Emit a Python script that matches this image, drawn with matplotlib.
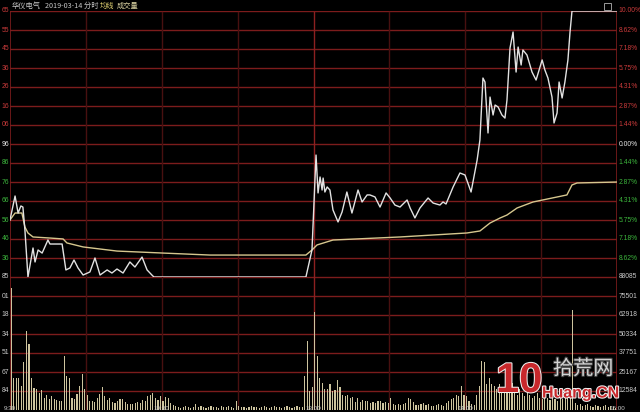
import numpy as np
import matplotlib
matplotlib.use("Agg")
import matplotlib.pyplot as plt
import matplotlib.transforms as mtrans
import matplotlib.patheffects as pe
from matplotlib.patches import Rectangle

plt.rcParams['font.family'] = ['Noto Sans CJK SC', 'DejaVu Sans']

# ---------------- data ----------------
title_name = "华仪电气"
title_date = "2019-03-14 分时"
title_avg = "均线"
title_vol = "成交量"

# price line (minutes since 9:30, % change vs previous close)
price_min = [0, 2.0, 3.2, 4.3, 5.1, 5.9, 7.1, 9.1, 9.9, 11.1, 12.7, 15.0, 15.8, 20.6, 22.1, 23.7,
             25.3, 26.9, 28.9, 31.6, 33.6, 35.6, 38.4, 40.3, 42.3, 44.7, 47.4, 49.4, 52.2, 54.2,
             56.1, 56.9, 117.0, 119.4, 121.0, 121.8, 122.6, 123.4, 123.8, 124.5, 125.4, 126.5,
             127.7, 129.7, 131.3, 133.2, 135.2, 137.6, 139.2, 141.2, 142.3, 144.3, 146.3, 148.7,
             150.3, 152.2, 154.2, 157.0, 158.2, 160.1, 162.1, 165.3, 167.3, 170.0, 171.2, 172.4,
             175.2, 177.9, 179.9, 182.3, 184.7, 185.8, 187.0, 187.8, 189.0, 189.8, 191.0, 191.8,
             193.0, 194.5, 195.7, 196.5, 197.7, 198.9, 200.1, 200.9, 202.1, 202.8, 204.4, 206.4,
             208.0, 210.4, 211.5, 212.7, 214.3, 215.1, 216.3, 217.1, 218.3, 219.4, 220.6, 221.4,
             222.2, 240]
price_pct = [-5.71, -3.91, -5.19, -4.66, -4.74, -6.47, -10.0, -7.82, -8.87, -7.97, -8.20, -7.22,
             -7.52, -7.52, -9.47, -9.32, -8.72, -9.32, -9.85, -9.62, -8.57, -9.85, -9.47, -9.70,
             -9.40, -9.70, -8.87, -9.25, -8.50, -9.47, -9.85, -10.0, -10.0, -7.97, -0.83, -3.68,
             -2.48, -3.46, -2.56, -3.61, -3.23, -3.46, -4.96, -5.86, -5.11, -3.61, -5.19, -3.46,
             -4.36, -3.83, -3.83, -3.98, -4.74, -3.68, -4.06, -4.59, -4.74, -4.21, -4.81, -5.56,
             -4.81, -4.06, -4.44, -4.59, -4.36, -4.51, -3.23, -2.18, -2.33, -3.61, -1.20, 0.30,
             4.96, 4.66, 0.83, 3.53, 2.18, 2.93, 2.78, 2.18, 1.95, 3.31, 7.22, 8.42, 5.41, 7.29,
             5.94, 7.07, 6.69, 5.41, 4.81, 6.32, 5.56, 4.96, 3.53, 1.58, 2.33, 4.66, 3.46, 4.66,
             6.32, 8.35, 10.0, 10.0]

# average price line
avg_min = [0, 2.0, 4.7, 5.9, 7.1, 9.1, 15.8, 21.0, 22.5, 28.9, 42.3, 60.5, 79.1, 117.0, 119.4,
           121.4, 127.7, 154.2, 180.7, 185.8, 189.8, 193.8, 196.5, 200.5, 206.8, 220.2, 222.2,
           224.2, 240]
avg_pct = [-5.71, -5.19, -5.19, -6.24, -6.69, -6.99, -7.07, -7.14, -7.44, -7.74, -8.05, -8.20,
           -8.35, -8.35, -7.97, -7.59, -7.22, -6.99, -6.69, -6.54, -5.94, -5.56, -5.34, -4.81,
           -4.36, -3.83, -3.08, -2.93, -2.86]

# per-minute volume (240 minutes)
volume = [
    81000, 21000, 21000, 21000, 16000, 32000, 52000, 44000, 21000, 14500,
    14000, 11000, 13000, 8000, 10000, 7500, 9000, 7000, 6500, 6000,
    6000, 36000, 22500, 21000, 8000, 7500, 10500, 16000, 24000, 14000,
    10000, 6000, 6000, 5000, 8000, 10500, 15500, 9500, 6500, 8000,
    5000, 4500, 6000, 7000, 7000, 5000, 4200, 4200, 4200, 4500,
    5000, 4500, 6500, 6000, 9000, 10000, 11500, 8000,
    6600, 9300, 6000, 8600, 7700, 4900, 3300,
    2600, 2000, 1500, 2000, 2600, 2000, 1500, 2000, 4000, 2000,
    2600, 2000, 1500, 2000, 2600, 2000, 2000, 1500, 2600, 2000,
    2000, 2600, 2000, 1500, 5700, 2600, 2000, 2000, 1500, 2000,
    2600, 2000, 2000, 1500, 2000, 2600, 2000, 1500, 2000, 2600,
    2000, 2000, 1500, 2000, 2600, 2000, 1500, 2000, 2600, 2000, 2000,
    22700, 46000, 12500, 15000,
    65000, 36000, 21000, 18000, 14000, 14000, 17000, 12500, 13500, 20000,
    15000, 10000, 9500, 10000, 8000, 8500, 5000, 8000, 5000, 6500,
    6000, 6000, 4500, 5000, 4500, 6000, 6000, 4500, 5000, 4500,
    8000, 4000, 3300, 4000, 3300, 4000, 4500, 8000, 7500, 5000,
    3300, 3300, 4000, 4500, 3300, 4000, 2600, 2600, 3300, 4000,
    3300, 2600, 4500, 5700, 7000, 8000, 10000, 9300, 16000, 10000,
    9000, 5700, 4000, 3300, 10000, 16000, 32400, 32000, 17000, 21400,
    17000, 16000,
    14000, 17000, 12000, 15000, 11000, 13000, 18000, 12000, 10000, 14000,
    11000, 9000, 12000, 10000, 8000, 9500, 11000, 8000, 7000, 9000,
    8000, 6500, 9000, 7500, 6000, 8000, 7000, 9500, 11000, 8000,
    66000,
    4500, 3300, 4000, 2600, 3300, 4000, 2600, 2000, 3300, 2600,
    2000, 2600, 3300, 2000, 2600, 2000, 1500,
]

right_up_labels = ["10.00%", "8.62%", "7.18%", "5.75%", "4.31%", "2.87%", "1.44%"]
right_zero_label = "0.00%"
right_dn_labels = ["1.44%", "2.87%", "4.31%", "5.75%", "7.18%", "8.62%"]
left_price_labels = ["65", "55", "45", "36", "26", "16", "06", "96",
                     "86", "76", "66", "56", "46", "36"]
vol_right_labels = ["88085", "75501", "62918", "50334", "37751", "25167", "12584"]
vol_left_labels = ["85", "01", "18", "34", "51", "67", "84"]
vol_max = 88085
time_labels = ["9:30", "10:30", "13:00", "14:00", "15:00"]
time_pos = [0, 60, 120, 180, 240]

# ---------------- figure ----------------
W, H = 640, 412
fig = plt.figure(figsize=(6.4, 4.12), dpi=100, facecolor="black")

L, R = 10, 617
ax = fig.add_axes([L / W, 1 - 277 / H, (R - L) / W, (277 - 11) / H])
axv = fig.add_axes([L / W, 1 - 410 / H, (R - L) / W, (410 - 277) / H])

GRID = "#7c1c1c"
VGRID = "#481010"
RED = "#c83a3a"
GREEN = "#3cb43c"
WHITE = "#e6e6e6"
GRAY = "#c8c8c8"

step = 10 / 7.0
for a in (ax, axv):
    a.set_facecolor("black")
    a.set_xlim(0, 240)
    a.set_xticks([])
    a.set_yticks([])
    for s in a.spines.values():
        s.set_visible(False)

ax.set_ylim(-10, 10)
axv.set_ylim(0, vol_max)

# grids
for k in range(-7, 8):
    ax.axhline(k * step, color=GRID, lw=1.0, zorder=1)
for k in range(1, 8):
    axv.axhline(k * vol_max / 7, color=GRID, lw=1.0, zorder=1)
for a in (ax, axv):
    for xm in [30, 60, 90, 150, 180, 210]:
        a.axvline(xm, color=VGRID, lw=1.0, zorder=1)
    a.axvline(120, color="#8c2020", lw=1.0, zorder=1)
    a.axvline(0, color=GRID, lw=1.2, zorder=1)
    a.axvline(240, color=GRID, lw=1.2, zorder=1)
ax.axhline(10, color=GRID, lw=1.2, zorder=1)

# lines
ax.plot(avg_min, avg_pct, color="#d6c78e", lw=1.0, zorder=3)
ax.plot(price_min, price_pct, color="#e2e2e2", lw=1.0, zorder=4)

# volume bars
mins = np.arange(len(volume)) + 0.5
axv.bar(mins, volume, width=0.45, color="#cdc49e", linewidth=0, zorder=2)

# axis labels
tr_r = mtrans.blended_transform_factory(ax.transAxes, ax.transData)
tr_rv = mtrans.blended_transform_factory(axv.transAxes, axv.transData)
fs = 4.9
fam = ['Liberation Sans', 'DejaVu Sans']
xr = (618.5 - L) / (R - L)
xl = (9 - L) / (R - L)
for i, lab in enumerate(right_up_labels):
    ax.text(xr, (7 - i) * step, lab, transform=tr_r, color=RED, fontsize=fs,
            va="center", ha="left", family=fam)
ax.text(xr, 0, right_zero_label, transform=tr_r, color=WHITE, fontsize=fs,
        va="center", ha="left", family=fam)
for i, lab in enumerate(right_dn_labels):
    ax.text(xr, -(i + 1) * step, lab, transform=tr_r, color=GREEN, fontsize=fs,
            va="center", ha="left", family=fam)
for i, lab in enumerate(left_price_labels):
    lvl = (7 - i) * step
    col = RED if lvl > 0.01 else (WHITE if abs(lvl) < 0.01 else GREEN)
    ax.text(xl, lvl, lab, transform=tr_r, color=col, fontsize=fs,
            va="center", ha="right", family=fam)
for i, lab in enumerate(vol_right_labels):
    v = (7 - i) * vol_max / 7
    axv.text(xr, v, lab, transform=tr_rv, color=GRAY, fontsize=fs,
             va="center", ha="left", family=fam)
for i, lab in enumerate(vol_left_labels):
    v = (7 - i) * vol_max / 7
    axv.text(xl, v, lab, transform=tr_rv, color=GRAY, fontsize=fs,
             va="center", ha="right", family=fam)

# time labels (bottom, mostly cropped in the original)
tr_b = mtrans.blended_transform_factory(axv.transData, fig.transFigure)
for t, lab in zip(time_pos, time_labels):
    axv.text(t, 1.5 / H, lab, transform=tr_b, color=GRAY, fontsize=4.5,
             va="bottom", ha="center", family=fam, clip_on=False)

# title
ty = 1 - 5.5 / H
fig.text(12 / W, ty, title_name, color=GRAY, fontsize=5.2, va="center", ha="left")
fig.text(45 / W, ty, title_date, color=GRAY, fontsize=5.2, va="center", ha="left")
fig.text(100 / W, ty, title_avg, color="#e0d070", fontsize=5.2, va="center", ha="left")
fig.text(117 / W, ty, title_vol, color="#d8d0a0", fontsize=5.2, va="center", ha="left")

# small icon at top right
fig.patches.append(Rectangle((604 / W, 1 - 10 / H), 7 / W, 7 / H, transform=fig.transFigure,
                             fill=False, edgecolor="#9a9a9a", lw=0.7))

# watermark
fig.text(496 / W, 1 - 401 / H, "10", color="#c8282c", fontsize=30, fontweight="bold",
         va="bottom", ha="left", family=['Liberation Sans', 'DejaVu Sans'],
         path_effects=[pe.withStroke(linewidth=1.5, foreground="#f0f0f0")])
fig.text(553 / W, 1 - 369 / H, "拾荒网", color="#d4d4d4", fontsize=14.5, va="center",
         ha="left", path_effects=[pe.withStroke(linewidth=1.5, foreground="#404040")])
fig.text(542 / W, 1 - 393 / H, "Huang.CN", color="#c8282c", fontsize=11.5, fontweight="bold",
         va="center", ha="left", family=['Liberation Sans', 'DejaVu Sans'],
         path_effects=[pe.withStroke(linewidth=1.5, foreground="#f0f0f0")])

fig.savefig("out.png", dpi=100, facecolor="black")
